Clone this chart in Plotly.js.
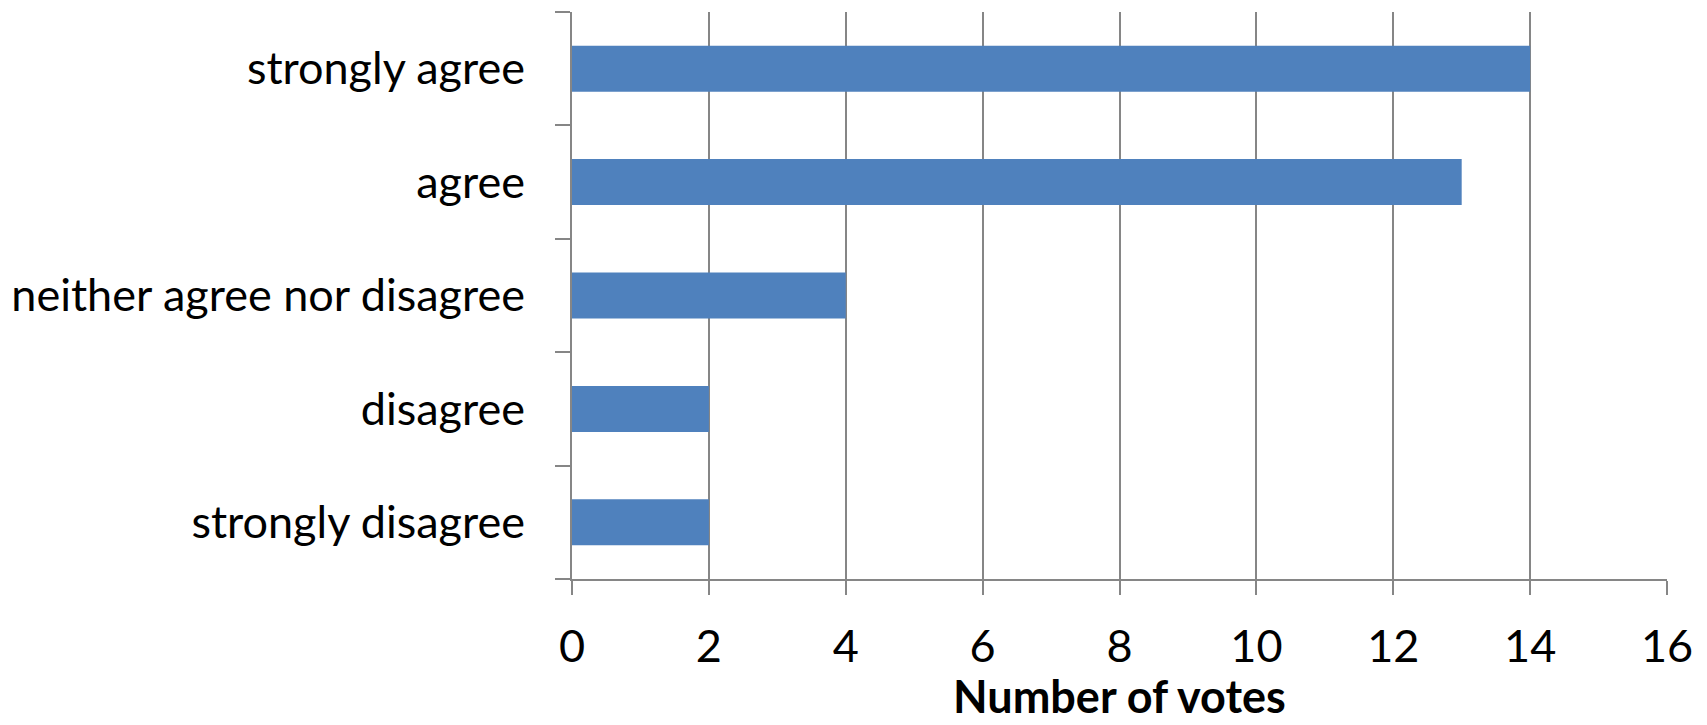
<!DOCTYPE html>
<html>
<head>
<meta charset="utf-8">
<script src="https://cdn.plot.ly/plotly-3.0.1.min.js"></script>
<style>
  html, body { margin: 0; padding: 0; background: #ffffff; }
  #chart { width: 1707px; height: 725px; }
</style>
</head>
<body>
<div id="chart"></div>
<script>
// Survey responses, listed bottom to top
const responses = ["strongly disagree", "disagree", "neither agree nor disagree", "agree", "strongly agree"];
const votes = [2, 2, 4, 13, 14];
const xTicks = [0, 2, 4, 6, 8, 10, 12, 14, 16];
const xTitle = "Number of votes";

const axisGray = "#868686";
const fontFamily = "Lato, 'Open Sans', sans-serif";

const trace = {
  type: "bar",
  orientation: "h",
  x: votes,
  y: responses,
  marker: { color: "#4F81BD", line: { width: 0 } },
  hoverinfo: "x+y"
};

const layout = {
  width: 1707,
  height: 725,
  margin: { l: 572, r: 40, t: 12, b: 146 },
  paper_bgcolor: "#ffffff",
  plot_bgcolor: "#ffffff",
  bargap: 0.594,
  showlegend: false,
  font: { family: fontFamily, color: "#000000", size: 45 },
  xaxis: {
    range: [0, 16],
    tickvals: xTicks,
    ticktext: xTicks.map(String),
    showgrid: true,
    gridcolor: axisGray,
    gridwidth: 2,
    zeroline: false,
    showline: true,
    linecolor: axisGray,
    linewidth: 2,
    ticks: "outside",
    ticklen: 14,
    tickwidth: 2,
    tickcolor: axisGray,
    tickfont: { family: fontFamily, size: 45, color: "#000000" },
    ticklabelstandoff: 13
  },
  yaxis: {
    type: "category",
    categoryorder: "array",
    categoryarray: responses,
    showgrid: false,
    zeroline: false,
    showline: true,
    linecolor: axisGray,
    linewidth: 2,
    ticks: "outside",
    tickson: "boundaries",
    ticklen: 15,
    tickwidth: 2,
    tickcolor: axisGray,
    tickfont: { family: fontFamily, size: 45, color: "#000000" },
    ticklabelstandoff: 36
  },
  // Axis title placed as a centred label under the tick numbers
  annotations: [{
    text: "<b>" + xTitle + "</b>",
    xref: "paper", yref: "paper",
    x: 0.5, y: 0, yshift: -696 + 579 + 0,
    xanchor: "center", yanchor: "middle",
    borderpad: 0,
    showarrow: false,
    font: { family: fontFamily, size: 45, color: "#000000" }
  }]
};

Plotly.newPlot("chart", [trace], layout, { displayModeBar: false, staticPlot: true });
</script>
</body>
</html>
